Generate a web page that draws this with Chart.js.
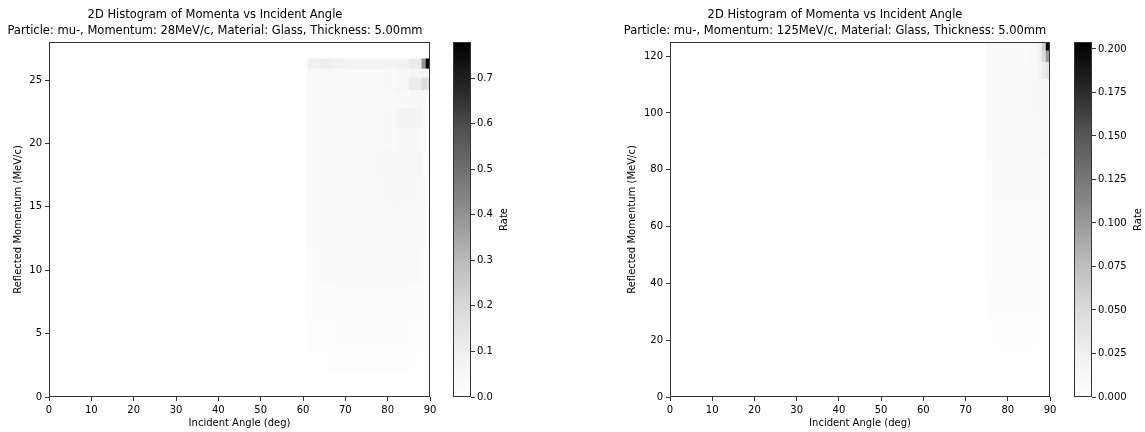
<!DOCTYPE html>
<html lang="en">
<head>
<meta charset="UTF-8" />
<title>2D Histogram of Momenta vs Incident Angle</title>
<script src="https://cdn.jsdelivr.net/npm/chart.js"></script>
<style>
  body { margin: 0; background: #fff; }
  #wrap { position: relative; width: 1145px; height: 432px; }
  canvas { position: absolute; top: 0; }
</style>
</head>
<body>
<div id="wrap">
  <canvas id="histL" width="480" height="432" style="left:0px"></canvas>
  <canvas id="barL" width="100" height="432" style="left:440px"></canvas>
  <canvas id="histR" width="480" height="432" style="left:620px"></canvas>
  <canvas id="barR" width="84" height="432" style="left:1061px"></canvas>
</div>
<script>
// ---- left panel: 28 MeV/c ----
const titleL = ["2D Histogram of Momenta vs Incident Angle",
  "Particle: mu-, Momentum: 28MeV/c, Material: Glass, Thickness: 5.00mm"];
const angleEdgesL = [61, 64, 67, 70, 73, 76, 79, 82, 85, 88, 89, 90];
// momentum bin edges, top row first
const momEdgesL = [26.7, 25.9, 25.2, 24.2, 22.8, 21.2, 19.5, 17.5, 15, 12, 9, 6, 4, 2, 0];
const rateL = [
  [0.09, 0.10, 0.09, 0.08, 0.075, 0.075, 0.075, 0.085, 0.12, 0.40, 0.78],
  [0.04, 0.04, 0.035, 0.035, 0.035, 0.035, 0.04, 0.05, 0.06, 0.07, 0.06],
  [0.035, 0.035, 0.035, 0.035, 0.035, 0.035, 0.04, 0.06, 0.12, 0.18, 0.16],
  [0.035, 0.035, 0.035, 0.035, 0.035, 0.035, 0.035, 0.04, 0.045, 0.04, 0.035],
  [0.035, 0.035, 0.035, 0.035, 0.035, 0.035, 0.04, 0.07, 0.08, 0.05, 0.035],
  [0.035, 0.035, 0.035, 0.035, 0.035, 0.035, 0.04, 0.05, 0.05, 0.04, 0.03],
  [0.035, 0.035, 0.035, 0.035, 0.035, 0.04, 0.055, 0.06, 0.055, 0.035, 0.03],
  [0.035, 0.035, 0.035, 0.035, 0.035, 0.035, 0.04, 0.04, 0.04, 0.03, 0.025],
  [0.03, 0.035, 0.035, 0.035, 0.035, 0.035, 0.035, 0.035, 0.03, 0.025, 0.02],
  [0.025, 0.03, 0.03, 0.03, 0.03, 0.03, 0.03, 0.03, 0.03, 0.02, 0.015],
  [0.02, 0.02, 0.025, 0.025, 0.025, 0.025, 0.025, 0.025, 0.02, 0.015, 0.01],
  [0.01, 0.015, 0.02, 0.02, 0.02, 0.02, 0.02, 0.02, 0.015, 0.01, 0.005],
  [0.005, 0.005, 0.01, 0.01, 0.01, 0.015, 0.015, 0.01, 0.005, 0, 0],
  [0, 0, 0, 0, 0, 0, 0, 0, 0, 0, 0]
];
const yMaxL = 28;
const yTickStepL = 5;
const vmaxL = 0.779;
const cbarStepL = 0.1;

// ---- right panel: 125 MeV/c ----
const titleR = ["2D Histogram of Momenta vs Incident Angle",
  "Particle: mu-, Momentum: 125MeV/c, Material: Glass, Thickness: 5.00mm"];
const angleEdgesR = [75, 77, 79, 81, 83, 85, 87, 88, 89, 90];
const momEdgesR = [125, 122, 118, 112, 100, 85, 70, 55, 40, 28, 18, 12];
const rateR = [
  [0.01, 0.01, 0.01, 0.01, 0.01, 0.012, 0.02, 0.06, 0.2],
  [0.008, 0.008, 0.008, 0.008, 0.009, 0.012, 0.02, 0.05, 0.1],
  [0.008, 0.008, 0.008, 0.008, 0.009, 0.011, 0.016, 0.03, 0.04],
  [0.008, 0.008, 0.008, 0.008, 0.009, 0.01, 0.012, 0.015, 0.015],
  [0.008, 0.008, 0.008, 0.008, 0.008, 0.009, 0.01, 0.01, 0.008],
  [0.007, 0.008, 0.008, 0.008, 0.008, 0.008, 0.008, 0.007, 0.006],
  [0.006, 0.007, 0.007, 0.007, 0.007, 0.007, 0.006, 0.005, 0.004],
  [0.005, 0.006, 0.006, 0.006, 0.006, 0.006, 0.005, 0.004, 0.003],
  [0.004, 0.005, 0.005, 0.005, 0.005, 0.005, 0.004, 0.003, 0.002],
  [0.002, 0.003, 0.004, 0.004, 0.004, 0.003, 0.002, 0.001, 0],
  [0, 0.001, 0.001, 0.002, 0.002, 0.001, 0, 0, 0]
];
const yMaxR = 125;
const yTickStepR = 20;
const vmaxR = 0.204;
const cbarStepR = 0.025;

const xLabel = "Incident Angle (deg)";
const yLabel = "Reflected Momentum (MeV/c)";

Chart.defaults.font.family = "'DejaVu Sans', sans-serif";
Chart.defaults.color = "#000";

// matplotlib "Greys"
const greyStops = [255, 240, 217, 189, 150, 115, 82, 37, 0];
function greys(f) {
  f = Math.min(Math.max(f, 0), 1) * (greyStops.length - 1);
  const i = Math.min(Math.floor(f), greyStops.length - 2);
  const g = Math.round(greyStops[i] + (greyStops[i + 1] - greyStops[i]) * (f - i));
  return "rgb(" + g + "," + g + "," + g + ")";
}

const frameColor = "#333";

const cellsPlugin = {
  id: "cells",
  beforeDatasetsDraw(chart, args, opts) {
    const { ctx, chartArea, scales } = chart;
    const xs = scales.x, ys = scales.y;
    ctx.save();
    ctx.beginPath();
    ctx.rect(chartArea.left, chartArea.top, chartArea.width, chartArea.height);
    ctx.clip();
    chart.data.datasets[0].data.forEach((c) => {
      if (c.v <= 0) return;
      const x0 = xs.getPixelForValue(c.x0), x1 = xs.getPixelForValue(c.x1);
      const y0 = ys.getPixelForValue(c.y0), y1 = ys.getPixelForValue(c.y1);
      ctx.fillStyle = greys(c.v / opts.vmax);
      ctx.fillRect(Math.min(x0, x1), Math.min(y0, y1), Math.abs(x1 - x0) + 0.5, Math.abs(y1 - y0) + 0.5);
    });
    ctx.restore();
  },
  afterDraw(chart) {
    const { ctx, chartArea: a } = chart;
    ctx.save();
    ctx.strokeStyle = frameColor;
    ctx.lineWidth = 1;
    ctx.strokeRect(Math.round(a.left) + 0.5, Math.round(a.top) + 0.5,
      Math.round(a.width) - 1, Math.round(a.height) - 1);
    ctx.restore();
  }
};

const cbarPlugin = {
  id: "cbar",
  beforeDatasetsDraw(chart, args, opts) {
    const { ctx, chartArea: a } = chart;
    const grad = ctx.createLinearGradient(0, a.bottom, 0, a.top);
    greyStops.forEach((g, i) => grad.addColorStop(i / (greyStops.length - 1), greys(i / (greyStops.length - 1))));
    ctx.save();
    ctx.fillStyle = grad;
    ctx.fillRect(a.left, a.top, a.width, a.height);
    ctx.restore();
  },
  afterDraw(chart, args, opts) {
    const { ctx, chartArea: a } = chart;
    ctx.save();
    ctx.strokeStyle = frameColor;
    ctx.lineWidth = 1;
    ctx.strokeRect(Math.round(a.left) + 0.5, Math.round(a.top) + 0.5,
      Math.round(a.width) - 1, Math.round(a.height) - 1);
    // colorbar label, reads bottom to top like matplotlib
    ctx.font = "10px 'DejaVu Sans'";
    let w = 0;
    chart.scales.y.ticks.forEach((t) => {
      w = Math.max(w, ctx.measureText(t.label).width);
    });
    ctx.translate(a.right + 4 + 2 + w + 6 + 6, (a.top + a.bottom) / 2);
    ctx.rotate(-Math.PI / 2);
    ctx.fillStyle = "#000";
    ctx.textAlign = "center";
    ctx.textBaseline = "middle";
    ctx.fillText(opts.label, 0, 0);
    ctx.restore();
  }
};

function buildCells(angleEdges, momEdges, rates) {
  const cells = [];
  rates.forEach((row, i) => {
    row.forEach((v, j) => {
      cells.push({
        x: (angleEdges[j] + angleEdges[j + 1]) / 2,
        y: (momEdges[i] + momEdges[i + 1]) / 2,
        x0: angleEdges[j], x1: angleEdges[j + 1],
        y0: momEdges[i], y1: momEdges[i + 1], v: v
      });
    });
  });
  return cells;
}

function makeHist(id, title, angleEdges, momEdges, rates, yMax, yStep, vmax, yAxisW, yTitlePad) {
  return new Chart(document.getElementById(id), {
    type: "scatter",
    data: { datasets: [{ data: buildCells(angleEdges, momEdges, rates), pointRadius: 0 }] },
    plugins: [cellsPlugin],
    options: {
      responsive: false,
      animation: false,
      devicePixelRatio: 1,
      layout: { padding: { left: 0, right: 50, top: 0, bottom: 0 } },
      plugins: {
        legend: { display: false },
        tooltip: { enabled: false },
        title: {
          display: true,
          text: title,
          font: { size: 11.5, weight: "normal", lineHeight: "16px" },
          padding: { top: 7, bottom: 3 },
          color: "#000"
        },
        cells: { vmax: vmax }
      },
      scales: {
        x: {
          type: "linear",
          min: 0, max: 90,
          afterFit: (s) => { s.height = 35; },
          ticks: { stepSize: 10, includeBounds: false, padding: 3, font: { size: 10 }, maxRotation: 0 },
          grid: { drawOnChartArea: false, tickLength: 4, color: frameColor },
          border: { display: false },
          title: { display: true, text: xLabel, font: { size: 10 }, padding: { top: 0, bottom: 3 } }
        },
        y: {
          type: "linear",
          min: 0, max: yMax,
          afterFit: (s) => { s.width = yAxisW; },
          ticks: { stepSize: yStep, includeBounds: false, padding: 3, font: { size: 10 } },
          grid: { drawOnChartArea: false, tickLength: 4, color: frameColor },
          border: { display: false },
          title: { display: true, text: yLabel, font: { size: 10 }, padding: { top: yTitlePad, bottom: 0 } }
        }
      }
    }
  });
}

function makeBar(id, vmax, step, digits, axisW) {
  return new Chart(document.getElementById(id), {
    type: "scatter",
    data: { datasets: [{ data: [] }] },
    plugins: [cbarPlugin],
    options: {
      responsive: false,
      animation: false,
      devicePixelRatio: 1,
      layout: { padding: { left: 13, right: 0, top: 42, bottom: 35 } },
      plugins: {
        legend: { display: false },
        tooltip: { enabled: false },
        cbar: { label: "Rate" }
      },
      scales: {
        x: { display: false, min: 0, max: 1 },
        y: {
          position: "right",
          min: 0, max: vmax,
          afterFit: (s) => { s.width = axisW; },
          ticks: {
            stepSize: step, includeBounds: false, padding: 2, font: { size: 10 },
            callback: (v) => Number(v).toFixed(digits)
          },
          grid: { drawOnChartArea: false, tickLength: 4, color: frameColor },
          border: { display: false }
        }
      }
    }
  });
}

makeHist("histL", titleL, angleEdgesL, momEdgesL, rateL, yMaxL, yTickStepL, vmaxL, 49, 12);
makeBar("barL", vmaxL, cbarStepL, 1, 69);
makeHist("histR", titleR, angleEdgesR, momEdgesR, rateR, yMaxR, yTickStepR, vmaxR, 50, 6);
makeBar("barR", vmaxR, cbarStepR, 3, 53);
</script>
</body>
</html>
